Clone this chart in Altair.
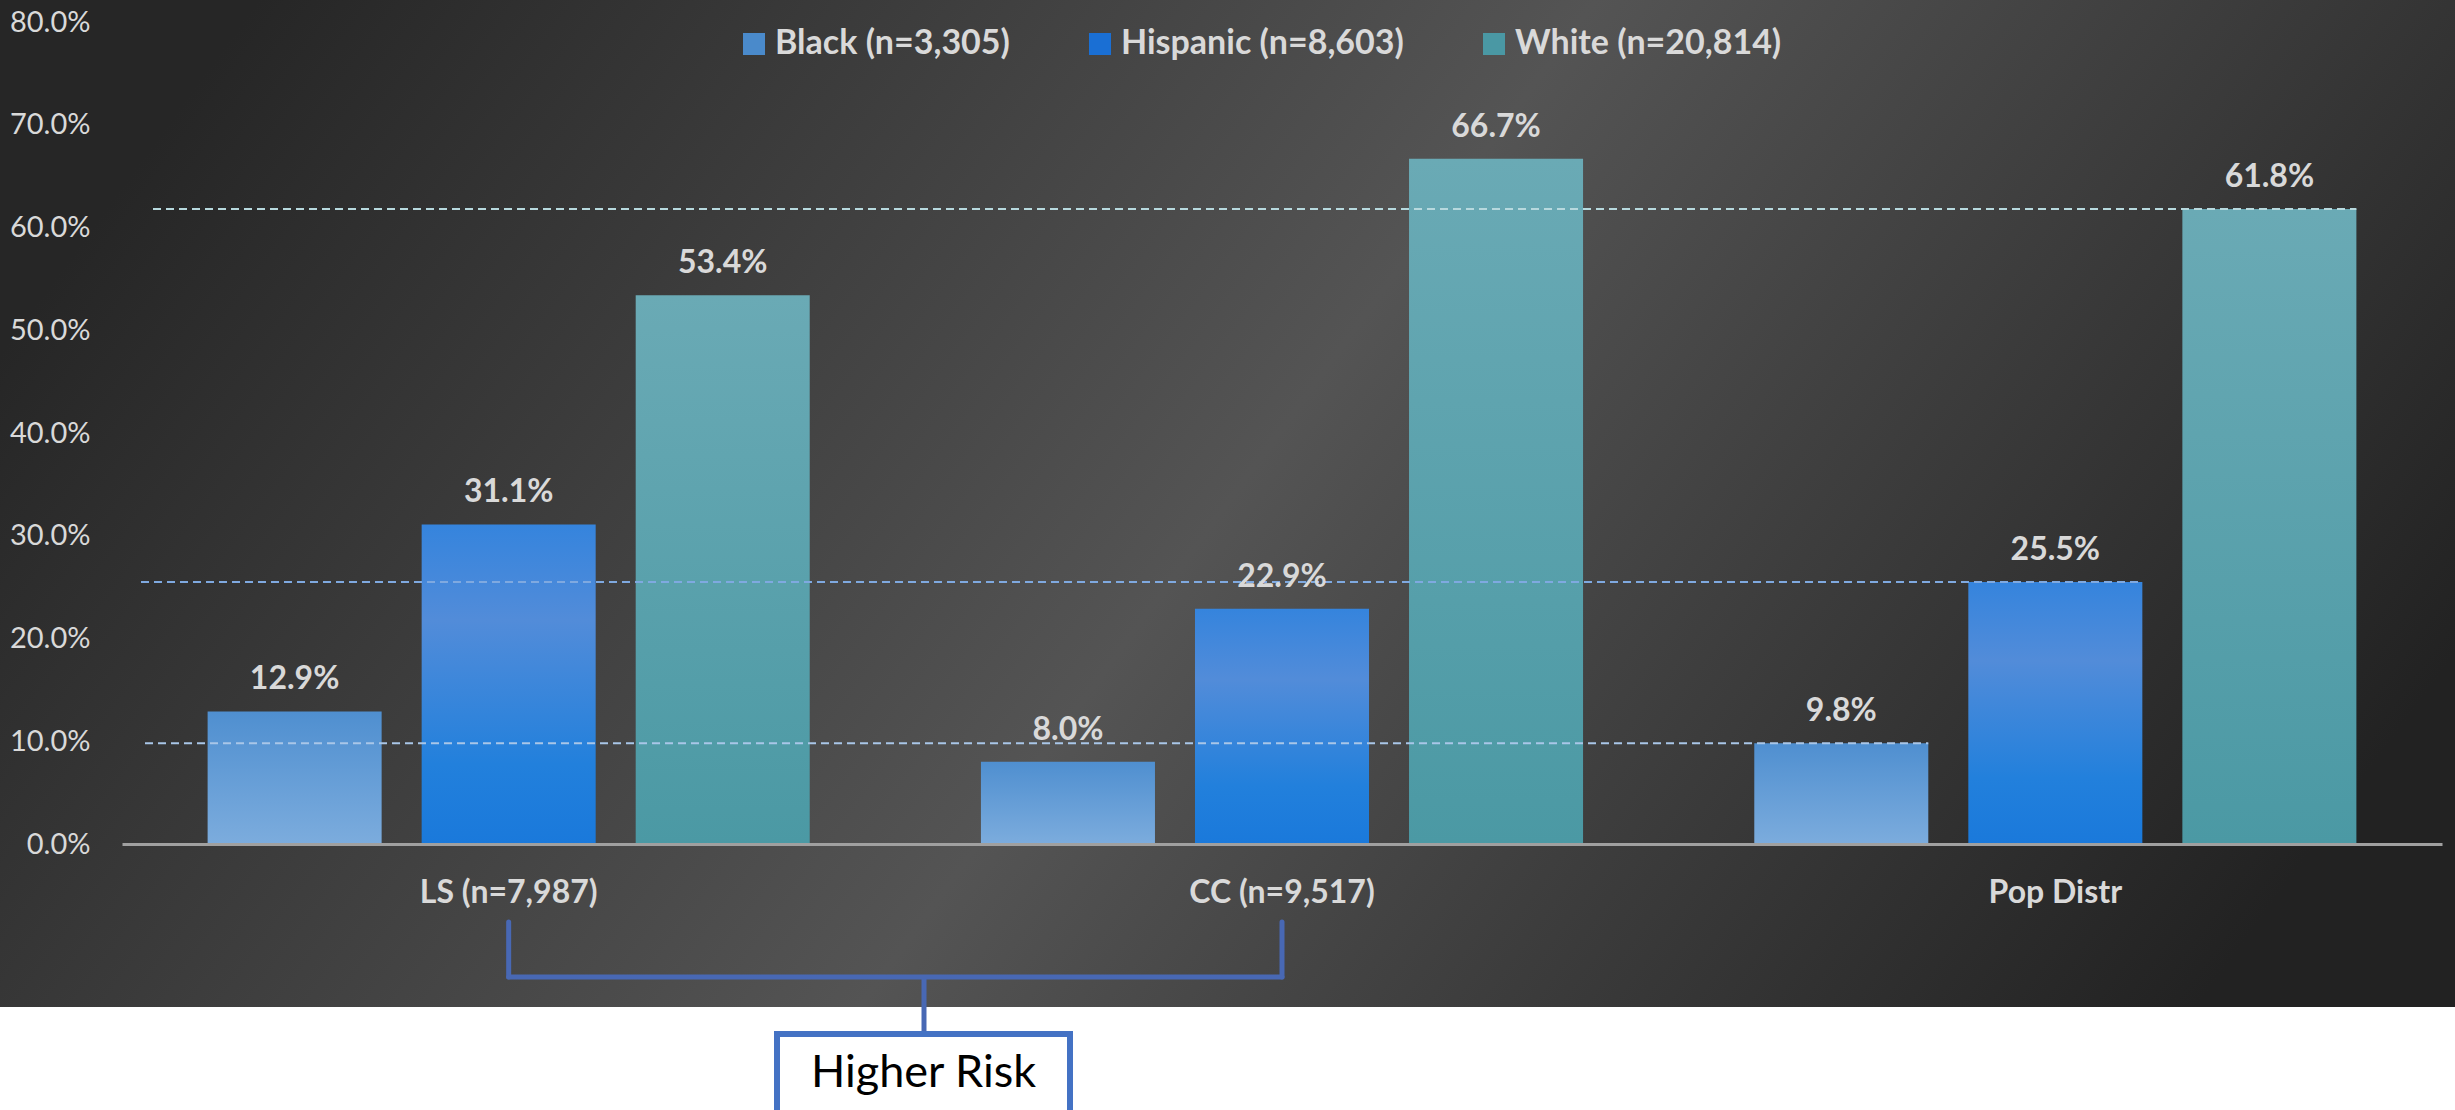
import altair as alt
import pandas as pd

# ---- data -----------------------------------------------------------------
categories = ["LS (n=7,987)", "CC (n=9,517)", "Pop Distr"]
groups = ["Black (n=3,305)", "Hispanic (n=8,603)", "White (n=20,814)"]
black_pct = [12.9, 8.0, 9.8]
hispanic_pct = [31.1, 22.9, 25.5]
white_pct = [53.4, 66.7, 61.8]
y_ticks = [0, 10, 20, 30, 40, 50, 60, 70, 80]
callout_text = ["Higher Risk"]
reference_category = "Pop Distr"

# ---- styling --------------------------------------------------------------
FONT = "Lato"
TEXT_GREY = "#d9d9d9"
legend_colors = ["#4a8acb", "#1a6fd4", "#4a98a4"]
bar_stops = [
    [("#4f8fd0", 0), ("#7cacdd", 1)],
    [("#3584dd", 0), ("#528cd9", 0.3), ("#2280dc", 0.75), ("#1a79db", 1)],
    [("#6aaab5", 0), ("#4b99a4", 1)],
]
ref_colors = ["#a9c6e8", "#7fa9e0", "#b7d9de"]
ref_start = [23, 19, 31]
BRACKET = "#4868b4"
BOX = "#4472c4"

W, H = 2320, 822
PAD = {"left": 122, "top": 22, "right": 13, "bottom": 266}


def vgrad(stops):
    return {
        "gradient": "linear",
        "x1": 0, "y1": 0, "x2": 0, "y2": 1,
        "stops": [{"color": c, "offset": o} for c, o in stops],
    }


rows = []
for g, vals in zip(groups, [black_pct, hispanic_pct, white_pct]):
    for c, v in zip(categories, vals):
        rows.append({"Category": c, "Group": g, "Value": v / 100})
df = pd.DataFrame(rows)

x_enc = alt.X(
    "Category:N",
    sort=categories,
    scale=alt.Scale(domain=categories, paddingInner=0, paddingOuter=0),
    axis=alt.Axis(
        title=None, labelAngle=0, ticks=False, zindex=1, labelLimit=0,
        labelFont=FONT, labelFontWeight="bold", labelFontSize=32,
        labelColor=TEXT_GREY, labelPadding=33, labelBaseline="top",
        domainColor="#a0a0a0", domainWidth=3,
    ),
)
xo_enc = alt.XOffset(
    "Group:N", sort=groups,
    scale=alt.Scale(domain=groups, paddingInner=0.187, paddingOuter=0.4),
)
y_enc = alt.Y(
    "Value:Q",
    scale=alt.Scale(domain=[0, 0.8], nice=False),
    axis=alt.Axis(
        title=None, values=[t / 100 for t in y_ticks], format=".1%",
        grid=False, domain=False, ticks=False, zindex=1,
        labelFont=FONT, labelFontSize=29, labelColor=TEXT_GREY, labelPadding=32,
    ),
)

one_row = pd.DataFrame({"k": [0]})

# dark slide background behind the plot
background = alt.Chart(one_row).mark_rect(
    fill={
        "gradient": "linear",
        "x1": 0, "y1": 0.35, "x2": 1, "y2": 0.65,
        "stops": [
            {"color": "#262626", "offset": 0},
            {"color": "#545454", "offset": 0.5},
            {"color": "#222222", "offset": 1},
        ],
    }
).encode(
    x=alt.value(-PAD["left"]), x2=alt.value(W + PAD["right"]),
    y=alt.value(-PAD["top"]), y2=alt.value(985),
)

# one bar layer per group so each gets its own vertical gradient
bar_layers = []
for g, stops in zip(groups, bar_stops):
    bar_layers.append(
        alt.Chart(df).transform_filter(alt.datum.Group == g)
        .mark_bar(fill=vgrad(stops))
        .encode(x=x_enc, xOffset=xo_enc, y=y_enc)
    )

# dashed reference lines at the population distribution values
ref_layers = []
for g, col, start in zip(groups, ref_colors, ref_start):
    edge = (
        f"scale('x', '{reference_category}') + scale('xOffset', '{g}') "
        f"+ bandwidth('xOffset')"
    )
    ref_layers.append(
        alt.Chart(df)
        .transform_filter((alt.datum.Group == g) & (alt.datum.Category == reference_category))
        .mark_rule(color=col, strokeDash=[8, 5], strokeWidth=2)
        .encode(y=y_enc, x=alt.value(start), x2=alt.value({"expr": edge}))
    )

labels = alt.Chart(df).mark_text(
    font=FONT, fontWeight="bold", fontSize=32, color=TEXT_GREY,
    baseline="alphabetic", dy=-22,
).encode(x=x_enc, xOffset=xo_enc, y=y_enc, text=alt.Text("Value:Q", format=".1%"))

legend_layer = alt.Chart(df).mark_square(size=0, opacity=0).encode(
    x=x_enc, xOffset=xo_enc, y=y_enc,
    color=alt.Color(
        "Group:N", sort=groups,
        scale=alt.Scale(domain=groups, range=legend_colors),
        legend=alt.Legend(
            title=None, orient="none", legendX=615, legendY=5,
            direction="horizontal", symbolType="square", symbolSize=484,
            symbolStrokeWidth=0, symbolOpacity=1, padding=0, labelLimit=0,
            labelFont=FONT, labelFontWeight="bold", labelFontSize=34,
            labelColor=TEXT_GREY, labelOffset=4, columnPadding=73,
        ),
    ),
)

# bracket grouping the two higher-risk categories
bracket_df = pd.DataFrame({"Category": categories[:2]})
bracket_arms = alt.Chart(bracket_df).mark_rule(
    color=BRACKET, strokeWidth=5, strokeCap="round"
).encode(x=x_enc, y=alt.value(900), y2=alt.value(955))
bracket_bar = alt.Chart(bracket_df).mark_line(
    color=BRACKET, strokeWidth=5, strokeCap="round"
).encode(x=x_enc, y=alt.value(955))
bracket_stem = alt.Chart(one_row).mark_rule(
    color=BRACKET, strokeWidth=5
).encode(x=alt.value(802), y=alt.value(955), y2=alt.value(1012))

callout_box = alt.Chart(one_row).mark_rect(
    fill="white", stroke=BOX, strokeWidth=6
).encode(x=alt.value(655), x2=alt.value(948), y=alt.value(1012), y2=alt.value(1110))
callout = alt.Chart(pd.DataFrame({"label": callout_text})).mark_text(
    font=FONT, fontSize=45, color="black", align="center", baseline="alphabetic"
).encode(x=alt.value(801.5), y=alt.value(1065), text="label:N")

chart = alt.layer(
    background, *bar_layers, *ref_layers, labels, legend_layer,
    bracket_arms, bracket_bar, bracket_stem, callout_box, callout,
).properties(
    width=W, height=H,
    padding=PAD,
    autosize=alt.AutoSizeParams(type="none"),
    background="white",
).configure_view(strokeWidth=0)

chart.save("out.html", embed_options={"renderer": "svg", "actions": False})
